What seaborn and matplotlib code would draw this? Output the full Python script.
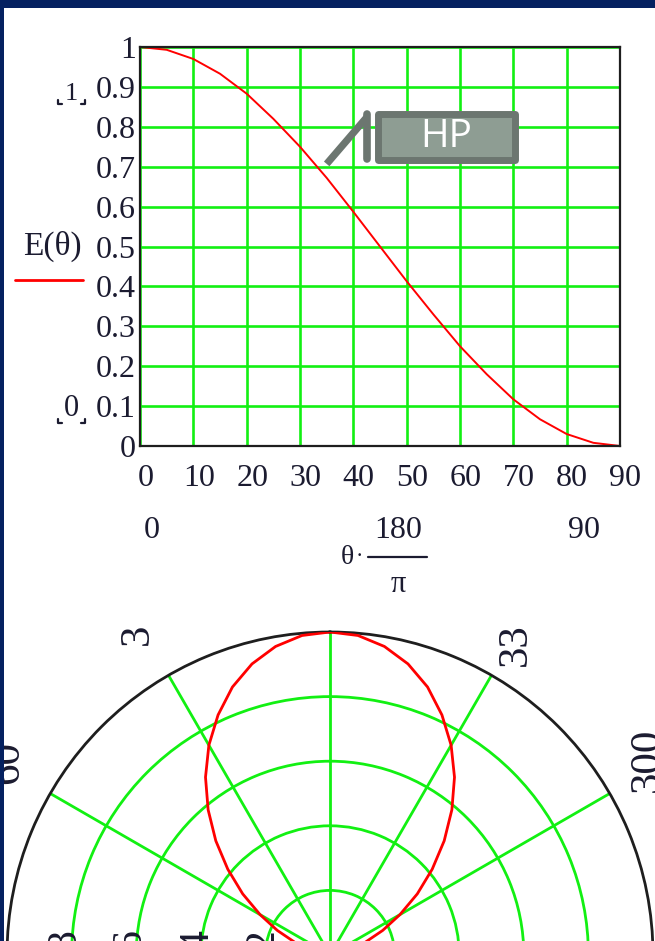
import numpy as np
import pandas as pd
import matplotlib
matplotlib.use("Agg")
import matplotlib.pyplot as plt
import seaborn as sns
from matplotlib.patches import Rectangle
from matplotlib.lines import Line2D
from matplotlib.transforms import Bbox, TransformedBbox, ScaledTranslation

# ---- normalised field pattern E(theta) ----
theta_deg = [0, 5, 10, 15, 20, 25, 30, 35, 40, 45, 50, 55, 60, 65, 70, 75, 80, 85, 90]
e_theta = [1.0, 0.993, 0.97, 0.933, 0.883, 0.82, 0.75, 0.672, 0.587, 0.50,
           0.413, 0.33, 0.25, 0.18, 0.117, 0.067, 0.03, 0.008, 0.0]

x_ticks = [0, 10, 20, 30, 40, 50, 60, 70, 80, 90]
x_tick_labels = ["0", "10", "20", "30", "40", "50", "60", "70", "80", "90"]
y_ticks = [0, 0.1, 0.2, 0.3, 0.4, 0.5, 0.6, 0.7, 0.8, 0.9, 1.0]
y_tick_labels = ["0", "0.1", "0.2", "0.3", "0.4", "0.5", "0.6", "0.7", "0.8", "0.9", "1"]

ring_levels = [0.2, 0.4, 0.6, 0.8]
ring_labels = ["0.2", "0.4", "0.6", "0.8"]
angle_grid = [0, 30, 60, 90, 120, 150, 180, 210, 240, 270, 300, 330]

hp_label = "HP"
hp_theta = 35
hp_level = 0.707

# ---- colours ----
NAVY = "#052160"
GREEN = "#12f012"
RED = "#ff0000"
FRAME = "#1e1e1e"
INK = "#1b1b30"
CALLOUT_EDGE = "#6c7670"
CALLOUT_FILL = "#8e9d93"

sns.set_theme(style="white")
plt.rcParams["font.family"] = ["Liberation Serif", "DejaVu Serif"]

W, H = 655, 941
fig = plt.figure(figsize=(W / 100, H / 100), dpi=100)
fig.patch.set_facecolor(NAVY)


def fx(x):
    return x / W


def fy(y):
    return 1 - y / H


# white sheet inside the dark frame
fig.patches.append(Rectangle((fx(4), 0), 1 - fx(4), fy(8), transform=fig.transFigure,
                             facecolor="white", edgecolor="none", zorder=-5))

# ================= Cartesian plot of E(theta) =================
X0, X1, Y0, Y1 = 140, 620, 446, 47
ax = fig.add_axes([fx(X0), fy(Y0), (X1 - X0) / W, (Y0 - Y1) / H])
ax.set_facecolor("white")
df = pd.DataFrame({"theta": theta_deg, "E": e_theta})
sns.lineplot(data=df, x="theta", y="E", ax=ax, color=RED, lw=1.4,
             estimator=None, sort=True, zorder=2, clip_on=False)
ax.set_xlim(0, 90)
ax.set_ylim(0, 1)
ax.set_xticks(x_ticks)
ax.set_xticklabels(x_tick_labels)
ax.set_yticks(y_ticks)
ax.set_yticklabels(y_tick_labels)
ax.set_xlabel("")
ax.set_ylabel("")
ax.set_axisbelow(True)
ax.grid(True, color=GREEN, lw=1.9)
ax.tick_params(axis="both", length=0, labelsize=23, colors=INK)
ax.tick_params(axis="y", pad=3)
ax.tick_params(axis="x", pad=13)
for lbl in ax.get_xticklabels():
    lbl.set_transform(lbl.get_transform() + ScaledTranslation(0.055, 0, fig.dpi_scale_trans))
for s in ax.spines.values():
    s.set_color(FRAME)
    s.set_linewidth(1.6)
    s.set_zorder(2.5)

# HP callout
def dxp(px):
    return (px - X0) / ((X1 - X0) / 90)


def dyp(py):
    return (Y0 - py) / (Y0 - Y1)


ax.plot([hp_theta, dxp(367)], [hp_level, dyp(117)], color=CALLOUT_EDGE, lw=5.2,
        solid_capstyle="butt", clip_on=False, zorder=6)
ax.plot([dxp(367), dxp(367)], [dyp(114), dyp(159)], color=CALLOUT_EDGE, lw=5.5,
        solid_capstyle="round", clip_on=False, zorder=6)
ax.add_patch(Rectangle((dxp(377.5), dyp(159.5)), dxp(514.5) - dxp(377.5),
                       dyp(113.5) - dyp(159.5), facecolor=CALLOUT_FILL,
                       edgecolor=CALLOUT_EDGE, lw=5.0, joinstyle="round", zorder=6))
ax.text(dxp(446), dyp(137), hp_label, color="white", fontsize=28, family="Open Sans",
        ha="center", va="center", zorder=7)

# axis annotations around the Cartesian plot
fig.text(fx(52), fy(246), "E(θ)", fontsize=24, color=INK, ha="center", va="center")
fig.add_artist(Line2D([fx(15), fx(83)], [fy(280), fy(280)], color=RED, lw=2))

fig.text(fx(71), fy(94), "1", fontsize=19, color=INK, ha="center", va="center")
fig.text(fx(71), fy(408), "0", fontsize=22, color=INK, ha="center", va="center")
for yb in (104, 423):
    for xa, xb in ((58, 62), (85, 81)):
        fig.add_artist(Line2D([fx(xb), fx(xa), fx(xa)], [fy(yb), fy(yb), fy(yb - 4)],
                              color=INK, lw=1.6))

fig.text(fx(152), fy(531), "0", fontsize=23, color=INK, ha="center", va="center")
fig.text(fx(584), fy(531), "90", fontsize=23, color=INK, ha="center", va="center")
fig.text(fx(347), fy(557), "θ", fontsize=20, color=INK, ha="center", va="center")
fig.text(fx(359), fy(557), "·", fontsize=16, color=INK, ha="center", va="center")
fig.text(fx(398), fy(530), "180", fontsize=23, color=INK, ha="center", va="center")
fig.add_artist(Line2D([fx(368), fx(427)], [fy(557), fy(557)], color=INK, lw=1.6))
fig.text(fx(398), fy(584), "π", fontsize=22, color=INK, ha="center", va="center")

# ================= polar plot of E(theta) =================
CX, CY, R = 330, 955, 323
pax = fig.add_axes([fx(CX - R), fy(CY + R), 2 * R / W, 2 * R / H], projection="polar")
pax.set_facecolor("white")
pax.set_theta_zero_location("N")
pax.set_theta_direction(1)

th = np.deg2rad(np.array(theta_deg, dtype=float))
ev = np.array(e_theta, dtype=float)
pol = pd.DataFrame({"t": np.concatenate([-th[::-1], th[1:]]),
                    "r": np.concatenate([ev[::-1], ev[1:]])})
sns.lineplot(data=pol, x="t", y="r", ax=pax, color=RED, lw=2.0,
             estimator=None, sort=False, zorder=3)
pax.set_ylim(0, 1)
pax.set_yticks(ring_levels)
pax.set_yticklabels([])
pax.set_xticks(np.deg2rad(angle_grid))
pax.set_xticklabels([])
pax.set_xlabel("")
pax.set_ylabel("")
pax.grid(True, color=GREEN, lw=2.0)
pax.spines["polar"].set_color(FRAME)
pax.spines["polar"].set_linewidth(2.0)

clip_box = TransformedBbox(Bbox.from_extents(fx(4), 0, 1, fy(628)), fig.transFigure)


def polar_label(x, y, s):
    t = fig.text(fx(x), fy(y), s, fontsize=31, color=INK, rotation=90,
                 ha="center", va="center", clip_on=True)
    t.set_clip_box(clip_box)


polar_label(138, 624, "30")
polar_label(516, 634, "330")
polar_label(648, 760, "300")
polar_label(8, 762, "60")
for xr, s in zip([65, 130, 197, 263], ring_labels[::-1]):
    polar_label(xr, 955, s)

fig.savefig("out.png", dpi=100, facecolor=fig.get_facecolor())
